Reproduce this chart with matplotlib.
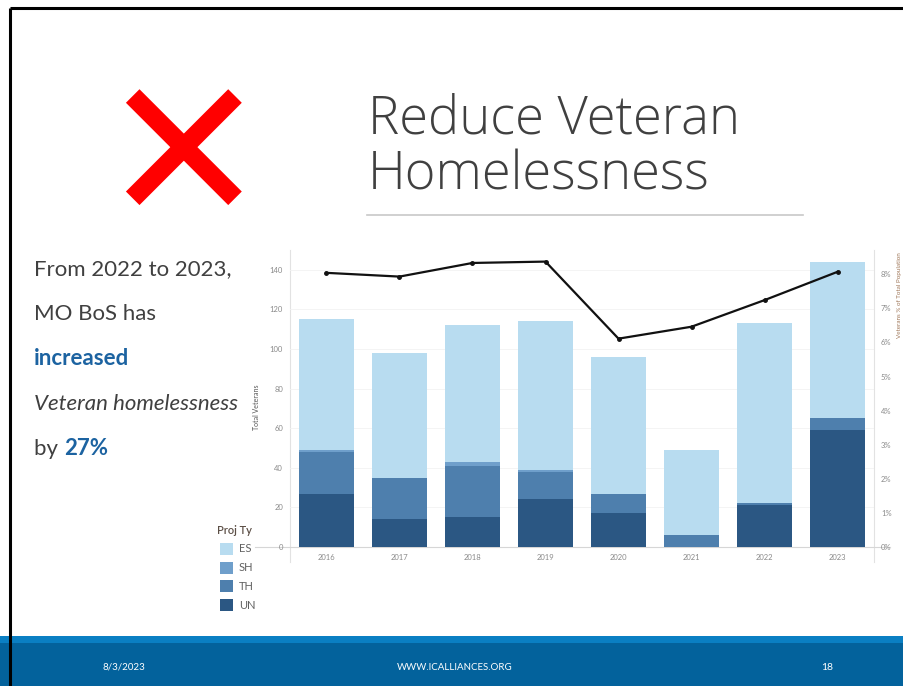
import matplotlib
matplotlib.use("Agg")
import matplotlib.pyplot as plt
from matplotlib.patches import Rectangle
from matplotlib.ticker import FuncFormatter

plt.rcParams["font.family"] = ["Lato", "DejaVu Sans"]

# Veterans counted in the point-in-time count, by project type
years = ["2016", "2017", "2018", "2019", "2020", "2021", "2022", "2023"]
un_vets = [27, 14, 15, 24, 17, 0, 21, 59]
th_vets = [21, 21, 26, 14, 10, 6, 1, 6]
sh_vets = [1, 0, 2, 1, 0, 0, 0, 0]
es_vets = [66, 63, 69, 75, 69, 43, 91, 79]
# veterans as a share of the total homeless population (%)
vet_share = [8.04, 7.93, 8.33, 8.37, 6.11, 6.46, 7.24, 8.07]

proj_types = ["ES", "SH", "TH", "UN"]
proj_colors = {"ES": "#b8dcf0", "SH": "#6f9fcb", "TH": "#4e7fad", "UN": "#2b5783"}

TEXT = "#404040"
ACCENT = "#1c63a1"

fig = plt.figure(figsize=(9.04, 6.86), dpi=100)

# slide canvas in pixel coordinates (y grows downward)
bg = fig.add_axes([0, 0, 1, 1], zorder=0)
bg.set_xlim(0, 904)
bg.set_ylim(686, 0)
bg.axis("off")

# slide border
bg.plot([10, 10], [8, 686], color="black", lw=2.2, solid_capstyle="butt")
bg.plot([10, 904], [8, 8], color="black", lw=2.2, solid_capstyle="butt")

# red cross
bg.plot([132.7, 235], [96, 198.3], color="#ff0000", lw=13.8, solid_capstyle="butt")
bg.plot([235, 132.7], [96, 198.3], color="#ff0000", lw=13.8, solid_capstyle="butt")

# title
title_font = dict(fontsize=37.8, family=["Open Sans", "Lato"], fontweight="light",
                  color=TEXT, va="baseline")
bg.text(368, 134, "Reduce Veteran", **title_font)
bg.text(368, 189, "Homelessness", **title_font)
bg.plot([367, 803], [215, 215], color="#c8c8c8", lw=1.2)

# left-hand commentary
fs = 16
bg.text(34, 275, "From 2022 to 2023,", fontsize=fs, color=TEXT, va="baseline")
bg.text(34, 320, "MO BoS has", fontsize=fs, color=TEXT, va="baseline")
bg.text(34, 365, "increased", fontsize=fs, color=ACCENT, fontweight="bold", va="baseline")
bg.text(34, 410, "Veteran homelessness", fontsize=fs, color=TEXT, style="italic", va="baseline")
t = bg.text(34, 455, "by ", fontsize=fs, color=TEXT, va="baseline")
bg.annotate("27%", xycoords=t, xy=(1, 0), va="bottom", fontsize=fs,
            color=ACCENT, fontweight="bold")

# footer band
bg.add_patch(Rectangle((0, 636), 904, 50, color="#03629c", lw=0))
bg.add_patch(Rectangle((0, 636), 904, 7, color="#0a7fc3", lw=0))
bg.text(124, 667, "8/3/2023", fontsize=7, color="white", ha="center", va="center")
bg.text(455, 667, "WWW.ICALLIANCES.ORG", fontsize=7, color="white", ha="center", va="center")
bg.text(827, 667, "18", fontsize=7.5, color="white", ha="center", va="center")

# axis frame lines that run past the plot area
bg.plot([290, 290], [250, 562], color="#e2e2e2", lw=0.8)
bg.plot([874, 874], [250, 562], color="#e2e2e2", lw=0.8)
bg.plot([255, 890], [547, 547], color="#d6d6d6", lw=0.8)

# legend
bg.text(217, 530, "Proj Ty", fontsize=8, color="#5b4e45", fontweight="semibold", va="center")
for i, p in enumerate(proj_types):
    y = 549 + i * 18.7
    bg.add_patch(Rectangle((220, y - 6), 13, 12, color=proj_colors[p], lw=0))
    bg.text(239, y, p, fontsize=8, color="#606060", va="center")

# chart
ax = fig.add_axes([290 / 904, (686 - 547) / 686, 584 / 904, 297 / 686], zorder=1)
ax.set_facecolor("none")
x = list(range(len(years)))
width = 0.74
bottom = [0] * len(years)
for p, vals in zip(["UN", "TH", "SH", "ES"], [un_vets, th_vets, sh_vets, es_vets]):
    ax.bar(x, vals, width, bottom=bottom, color=proj_colors[p], linewidth=0, zorder=2)
    bottom = [b + v for b, v in zip(bottom, vals)]

ax.set_xlim(-0.5, 7.5)
ax.set_ylim(0, 150)
ax.set_yticks(range(0, 141, 20))
ax.set_xticks(x, years)
ax.grid(axis="y", color="#f2f2f2", lw=0.6, zorder=0)
ax.tick_params(length=0, labelsize=5.5, labelcolor="#8a8a8a", pad=5)
for s in ax.spines.values():
    s.set_visible(False)
ax.set_ylabel("Total Veterans", fontsize=5, color="#555555", labelpad=3)
ax.yaxis.set_label_coords(-0.052, 0.47)

ax2 = ax.twinx()
ax2.plot(x, vet_share, color="#111111", lw=1.6, marker="o", markersize=2.5, zorder=3)
ax2.set_ylim(0, 8.71)
ax2.set_yticks(range(0, 9))
ax2.yaxis.set_major_formatter(FuncFormatter(lambda v, _: f"{v:.0f}%"))
ax2.tick_params(length=0, labelsize=5.5, labelcolor="#8a8a8a", pad=5)
for s in ax2.spines.values():
    s.set_visible(False)

fig.text(0.9945, 0.57, "Veterans % of Total Population", rotation=90, fontsize=4.5,
         color="#a0785a", ha="center", va="center")

fig.savefig("out.png", dpi=100)
